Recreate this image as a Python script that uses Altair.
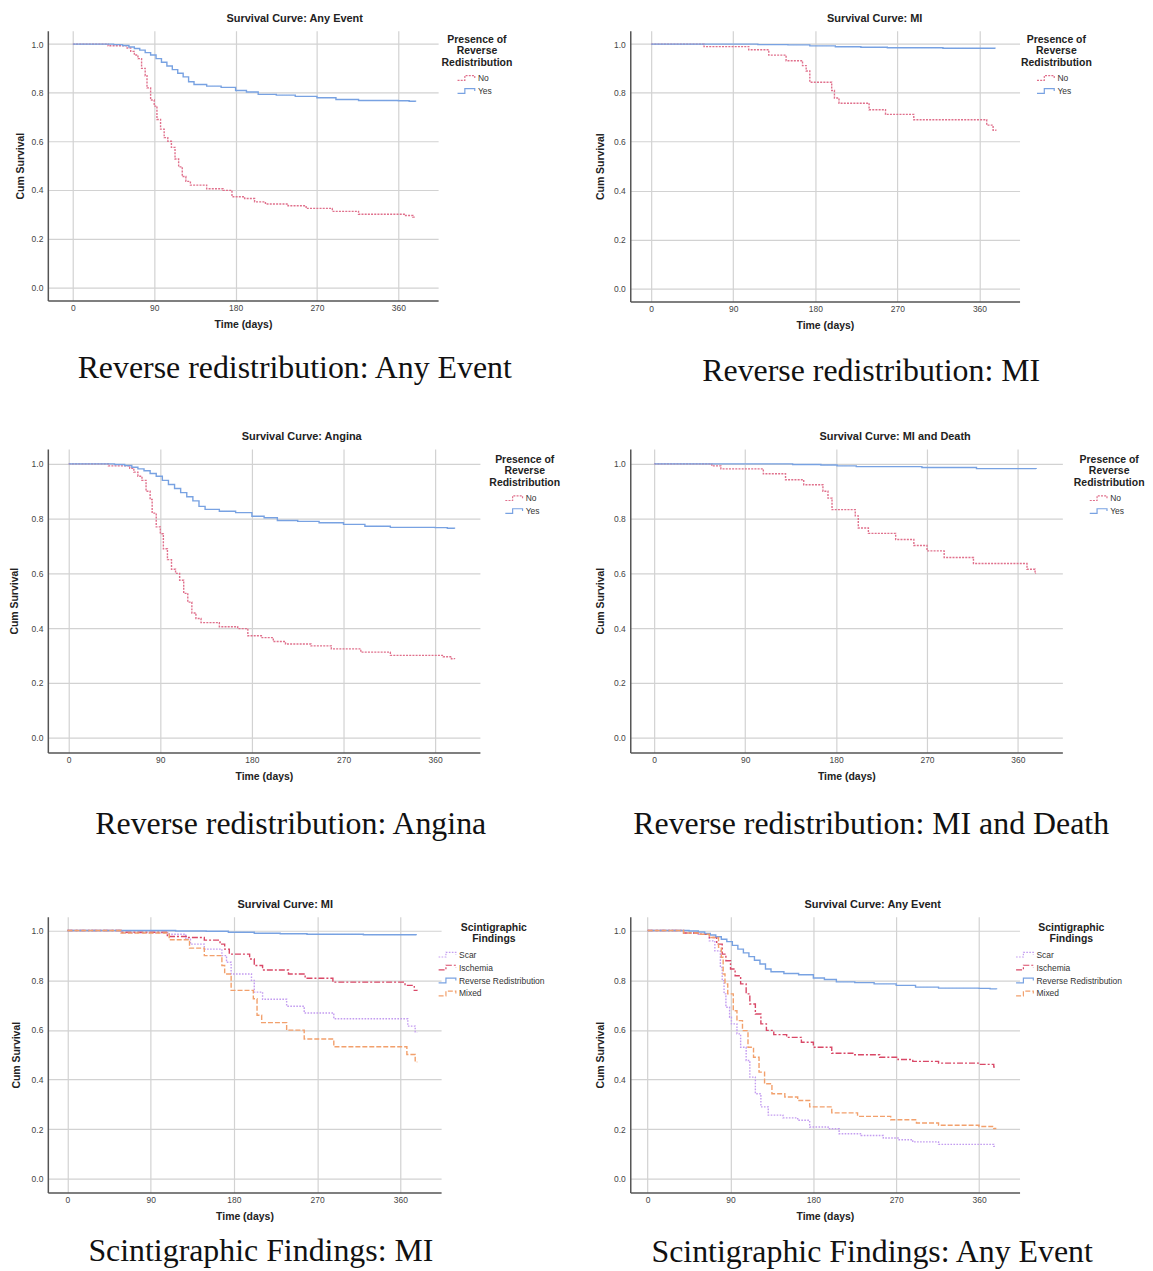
import altair as alt
import pandas as pd

# ---------------- data ----------------
# Reverse redistribution: Any Event  (Angina panel shows the same curves)
ae_no_t = [0, 39, 60, 64, 68, 72, 76, 80, 82, 86, 90, 93, 97, 101, 105, 109, 113, 117, 121, 125, 130, 148, 166, 176, 190, 201, 213, 238, 258, 287, 316, 368, 376, 379]
ae_no_s = [1.0, 0.993, 0.984, 0.97, 0.955, 0.94, 0.90, 0.87, 0.82, 0.77, 0.745, 0.69, 0.65, 0.615, 0.60, 0.575, 0.527, 0.495, 0.455, 0.435, 0.42, 0.405, 0.398, 0.372, 0.365, 0.351, 0.342, 0.335, 0.324, 0.312, 0.300, 0.295, 0.288, 0.287]
ae_yes_t = [0, 45, 55, 62, 68, 74, 80, 86, 92, 98, 104, 110, 116, 122, 128, 134, 148, 164, 180, 192, 205, 225, 246, 270, 291, 316, 360, 372, 379]
ae_yes_s = [1.0, 0.998, 0.994, 0.988, 0.982, 0.975, 0.965, 0.955, 0.94, 0.925, 0.91, 0.895, 0.88, 0.865, 0.845, 0.834, 0.827, 0.822, 0.809, 0.803, 0.793, 0.79, 0.785, 0.779, 0.772, 0.768, 0.767, 0.765, 0.763]

# Reverse redistribution: MI
mi_no_t = [0, 58, 107, 129, 148, 166, 170, 174, 198, 201, 206, 239, 257, 288, 368, 375, 378]
mi_no_s = [1.0, 0.99, 0.977, 0.955, 0.932, 0.912, 0.89, 0.844, 0.81, 0.779, 0.758, 0.731, 0.712, 0.69, 0.668, 0.647, 0.645]
mi_yes_t = [0, 117, 150, 174, 202, 230, 259, 320, 377]
mi_yes_s = [1.0, 0.998, 0.997, 0.993, 0.989, 0.987, 0.985, 0.983, 0.981]

# Reverse redistribution: MI and Death
md_no_t = [0, 57, 66, 108, 130, 148, 167, 172, 176, 199, 202, 212, 239, 257, 270, 287, 316, 369, 377, 378]
md_no_s = [1.0, 0.993, 0.982, 0.964, 0.942, 0.924, 0.9, 0.875, 0.833, 0.81, 0.766, 0.746, 0.724, 0.702, 0.682, 0.658, 0.636, 0.615, 0.6, 0.6]
md_yes_t = [0, 137, 165, 181, 200, 265, 319, 378]
md_yes_s = [1.0, 0.998, 0.996, 0.993, 0.99, 0.987, 0.983, 0.981]

# Scintigraphic findings: MI
smi_scar_t = [0, 58, 110, 128, 133, 148, 167, 172, 177, 199, 202, 211, 237, 256, 288, 368, 376, 378]
smi_scar_s = [1.0, 0.991, 0.985, 0.965, 0.945, 0.925, 0.899, 0.872, 0.825, 0.799, 0.752, 0.723, 0.695, 0.668, 0.645, 0.615, 0.592, 0.59]
smi_isch_t = [0, 58, 108, 130, 148, 165, 170, 175, 197, 202, 211, 239, 257, 287, 365, 375, 378]
smi_isch_s = [1.0, 0.993, 0.976, 0.972, 0.961, 0.945, 0.925, 0.905, 0.885, 0.859, 0.841, 0.825, 0.808, 0.792, 0.779, 0.759, 0.757]
smi_mix_t = [0, 58, 110, 132, 148, 167, 170, 177, 201, 205, 210, 237, 256, 288, 367, 376, 378]
smi_mix_s = [1.0, 0.99, 0.963, 0.929, 0.899, 0.859, 0.825, 0.759, 0.725, 0.659, 0.629, 0.599, 0.563, 0.532, 0.501, 0.472, 0.47]

# Scintigraphic findings: Any Event
sae_scar_t = [0, 39, 55, 67, 73, 79, 81, 83, 85, 89, 91, 97, 101, 107, 111, 117, 123, 131, 147, 163, 176, 196, 208, 232, 256, 272, 288, 316, 360, 376, 378]
sae_scar_s = [1.0, 0.99, 0.985, 0.958, 0.918, 0.851, 0.798, 0.745, 0.691, 0.651, 0.624, 0.584, 0.53, 0.477, 0.41, 0.343, 0.29, 0.257, 0.246, 0.236, 0.209, 0.202, 0.182, 0.175, 0.165, 0.158, 0.149, 0.139, 0.139, 0.131, 0.13]
sae_isch_t = [0, 39, 55, 67, 75, 81, 85, 90, 95, 101, 107, 111, 117, 123, 129, 137, 151, 167, 180, 200, 224, 252, 272, 288, 316, 360, 376, 378]
sae_isch_s = [1.0, 0.99, 0.985, 0.972, 0.945, 0.905, 0.878, 0.845, 0.818, 0.785, 0.745, 0.704, 0.664, 0.624, 0.598, 0.581, 0.57, 0.55, 0.53, 0.506, 0.5, 0.49, 0.481, 0.473, 0.466, 0.461, 0.45, 0.448]
sae_mix_t = [0, 39, 55, 67, 77, 80, 82, 84, 87, 93, 97, 103, 109, 115, 121, 127, 135, 149, 163, 176, 200, 228, 264, 292, 316, 360, 376, 378]
sae_mix_s = [1.0, 0.99, 0.985, 0.972, 0.932, 0.892, 0.825, 0.785, 0.745, 0.677, 0.637, 0.597, 0.53, 0.49, 0.43, 0.383, 0.343, 0.33, 0.316, 0.29, 0.266, 0.252, 0.238, 0.225, 0.216, 0.211, 0.203, 0.2]

rr_groups = ["No", "Yes"]
sf_groups = ["Scar", "Ischemia", "Reverse Redistribution", "Mixed"]
x_ticks = [0, 90, 180, 270, 360]
y_ticks = [0.0, 0.2, 0.4, 0.6, 0.8, 1.0]

# ---------------- styling ----------------
RED = "#e0708c"
BLUE = "#78a2e2"
PURPLE = "#c39cf0"
ISCH = "#d94867"
ORANGE = "#f2a06c"
SANS = "Liberation Sans"
SERIF = "Liberation Serif"
STEP = "M-2,0.45H-0.6V-0.45H1.3V0"


def build_df(series):
    frames = [pd.DataFrame({"group": name, "time": ts, "surv": ss}) for name, ts, ss in series]
    return pd.concat(frames, ignore_index=True)


def panel(series, title, domain, colors, dashes, legend_title, width, height,
          xmin, title_dx, lx, ly, ytitle_pad):
    df = build_df(series)
    leg = alt.Legend(
        title=legend_title, orient="none", legendX=lx, legendY=ly,
        titleAlign="center", titleAnchor="middle", titleFont=SANS,
        titleFontSize=10.5, titleFontWeight="bold", titleColor="#222",
        titleLineHeight=11.5, titlePadding=4, labelFont=SANS, labelFontSize=8.5,
        labelColor="#333", symbolType=STEP, symbolSize=110, symbolStrokeWidth=1.2,
        labelOffset=4, rowPadding=2, padding=0,
    )
    return alt.Chart(df).mark_line(interpolate="step-after", strokeWidth=1.4).encode(
        x=alt.X("time:Q", scale=alt.Scale(domain=[xmin, 404], nice=False, zero=False),
                axis=alt.Axis(values=x_ticks, title="Time (days)", grid=True,
                              gridColor="#d2d2d2", gridWidth=1.2, ticks=False,
                              domainColor="#555", domainWidth=1.5, labelFont=SANS,
                              labelFontSize=8.5, labelColor="#444", labelPadding=3,
                              labelFlush=False, titleFont=SANS, titleFontSize=10.5,
                              titleFontWeight="bold", titleColor="#222", titlePadding=8)),
        y=alt.Y("surv:Q", scale=alt.Scale(domain=[-0.055, 1.055], nice=False, zero=False),
                axis=alt.Axis(values=y_ticks, format=".1f", title="Cum Survival", grid=True,
                              gridColor="#d2d2d2", gridWidth=1.2, ticks=False,
                              domainColor="#555", domainWidth=1.5, labelFont=SANS,
                              labelFontSize=8.5, labelColor="#444", labelPadding=5,
                              titleFont=SANS, titleFontSize=10.5, titleFontWeight="bold",
                              titleColor="#222", titlePadding=ytitle_pad)),
        color=alt.Color("group:N", scale=alt.Scale(domain=domain, range=colors), legend=leg),
        strokeDash=alt.StrokeDash("group:N", scale=alt.Scale(domain=domain, range=dashes), legend=leg),
    ).properties(
        width=width, height=height,
        title=alt.Title(title, font=SANS, fontSize=11, fontWeight="bold", color="#222",
                        anchor="middle", frame="group", dx=title_dx, offset=7),
    )


def caption(text, width, height, dx, dy):
    return alt.Chart(pd.DataFrame({"caption": [text]})).mark_text(
        font=SERIF, fontSize=32, color="#111", baseline="alphabetic", dx=dx, dy=dy
    ).encode(text="caption:N").properties(width=width, height=height)


rr_colors = [RED, BLUE]
rr_dashes = [[2, 1.2], [1, 0]]
sf_colors = [PURPLE, ISCH, BLUE, ORANGE]
sf_dashes = [[1.6, 1.4], [6, 2, 2, 2], [1, 0], [5, 2]]
rr_title = ["Presence of", "Reverse", "Redistribution"]
sf_title = ["Scintigraphic", "Findings"]

p1 = panel([("No", ae_no_t, ae_no_s), ("Yes", ae_yes_t, ae_yes_s)],
           "Survival Curve: Any Event", rr_groups, rr_colors, rr_dashes, rr_title,
           392, 271, -27.7, 52, 395, 4, 6)
p2 = panel([("No", mi_no_t, mi_no_s), ("Yes", mi_yes_t, mi_yes_s)],
           "Survival Curve: MI", rr_groups, rr_colors, rr_dashes, rr_title,
           391, 272, -22.9, 50, 392, 4, 8)
p3 = panel([("No", ae_no_t, ae_no_s), ("Yes", ae_yes_t, ae_yes_s)],
           "Survival Curve: Angina", rr_groups, rr_colors, rr_dashes, rr_title,
           434, 305, -20.5, 38, 443, 6, 12)
p4 = panel([("No", md_no_t, md_no_s), ("Yes", md_yes_t, md_yes_s)],
           "Survival Curve: MI and Death", rr_groups, rr_colors, rr_dashes, rr_title,
           434, 305, -23.7, 49, 445, 6, 8)
p5 = panel([("Scar", smi_scar_t, smi_scar_s), ("Ischemia", smi_isch_t, smi_isch_s),
            ("Reverse Redistribution", mi_yes_t, mi_yes_s), ("Mixed", smi_mix_t, smi_mix_s)],
           "Survival Curve: MI", sf_groups, sf_colors, sf_dashes, sf_title,
           395, 277, -21.2, 41, 397, 6, 10)
p6 = panel([("Scar", sae_scar_t, sae_scar_s), ("Ischemia", sae_isch_t, sae_isch_s),
            ("Reverse Redistribution", ae_yes_t, ae_yes_s), ("Mixed", sae_mix_t, sae_mix_s)],
           "Survival Curve: Any Event", sf_groups, sf_colors, sf_dashes, sf_title,
           391, 277, -18.9, 48, 392, 6, 8)

c1 = caption("Reverse redistribution: Any Event", 434, 148, 31, 3)
c2 = caption("Reverse redistribution: MI", 434, 148, 25, 6)
c3 = caption("Reverse redistribution: Angina", 434, 165, 27, -1)
c4 = caption("Reverse redistribution: MI and Death", 434, 165, 25, -1)
c5 = caption("Scintigraphic Findings: MI", 434, 95, -3, 21)
c6 = caption("Scintigraphic Findings: Any Event", 434, 95, 26, 22)

chart = alt.concat(
    p1, p2, c1, c2, p3, p4, c3, c4, p5, p6, c5, c6,
    columns=2, spacing={"row": 0, "column": 151}, bounds="flush", align="each",
).resolve_scale(
    color="independent", strokeDash="independent"
).resolve_legend(
    color="independent", strokeDash="independent"
).properties(
    padding={"left": 1, "top": 2, "right": 0, "bottom": 0}, background="white"
).configure_view(strokeWidth=0)

chart.save("out.html", embed_options={"renderer": "svg", "actions": False})
